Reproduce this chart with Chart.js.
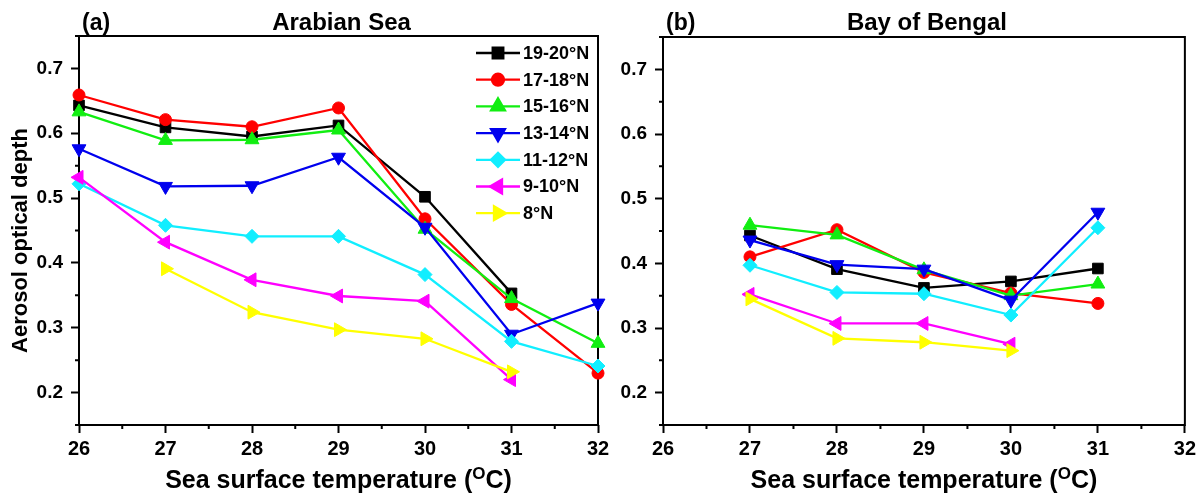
<!DOCTYPE html>
<html>
<head>
<meta charset="utf-8">
<script src="https://cdn.jsdelivr.net/npm/chart.js@4.4.1/dist/chart.umd.min.js"></script>
<style>
    html, body { margin: 0; padding: 0; background: #fff; }
    body { width: 1200px; height: 497px; position: relative; overflow: hidden; }
    #wrap-a { position: absolute; left: 0; top: 0; width: 620px; height: 497px; }
    #wrap-b { position: absolute; left: 600px; top: 0; width: 600px; height: 497px; }
</style>
</head>
<body>
<div id="wrap-a"><canvas id="chart-a"></canvas></div>
<div id="wrap-b"><canvas id="chart-b"></canvas></div>
<script>
// SST bins (x) and latitude bands
const sst = [26, 27, 28, 29, 30, 31, 32];
const bands = ['19-20°N', '17-18°N', '15-16°N', '13-14°N', '11-12°N', '9-10°N', '8°N'];

// (a) Arabian Sea - AOD per SST bin
const asN19_20 = [0.643, 0.609, 0.595, 0.612, 0.502, 0.353, null];
const asN17_18 = [0.659, 0.621, 0.610, 0.639, 0.468, 0.336, 0.230];
const asN15_16 = [0.633, 0.589, 0.590, 0.605, 0.452, 0.345, 0.276];
const asN13_14 = [0.576, 0.518, 0.519, 0.563, 0.455, 0.290, 0.338];
const asN11_12 = [0.522, 0.458, 0.441, 0.441, 0.382, 0.279, 0.241];
const asN9_10  = [0.532, 0.432, 0.374, 0.349, 0.341, 0.220, null];
const asN8     = [null, 0.391, 0.324, 0.297, 0.283, 0.232, null];

// (b) Bay of Bengal
const bbN19_20 = [null, 0.443, 0.391, 0.362, 0.372, 0.392, null];
const bbN17_18 = [null, 0.410, 0.452, 0.386, 0.354, 0.338, null];
const bbN15_16 = [null, 0.459, 0.444, 0.390, 0.350, 0.368, null];
const bbN13_14 = [null, 0.436, 0.398, 0.391, 0.343, 0.479, null];
const bbN11_12 = [null, 0.397, 0.355, 0.353, 0.320, 0.455, null];
const bbN9_10  = [null, 0.352, 0.307, 0.307, 0.275, null, null];
const bbN8     = [null, 0.345, 0.284, 0.278, 0.265, null, null];

// ticks
const xMajorTicks = [26, 27, 28, 29, 30, 31, 32];
const xMinorTicks = [26.5, 27.5, 28.5, 29.5, 30.5, 31.5];
const yMajorTicks = [0.2, 0.3, 0.4, 0.5, 0.6, 0.7];
const yMinorTicks = [0.15, 0.25, 0.35, 0.45, 0.55, 0.65, 0.75];

const FONT = "'Liberation Sans', Arial, sans-serif";

// marker look per band (Origin defaults)
const styles = [
    { color: '#000000', point: 'rect', rot: 0, r: 7.5 },
    { color: '#ff0000', point: 'circle', rot: 0, r: 6 },
    { color: '#11ee11', point: 'triangle', rot: 0, r: 8 },
    { color: '#0000ee', point: 'triangle', rot: 180, r: 8 },
    { color: '#11eeff', point: 'rectRot', rot: 0, r: 7 },
    { color: '#ff00ff', point: 'triangle', rot: -90, r: 8 },
    { color: '#ffff00', point: 'triangle', rot: 90, r: 8 }
];

function toPoints(vals) {
    return sst.map((x, i) => ({ x: x, y: vals[i] })).filter(p => p.y !== null);
}

function buildDatasets(series) {
    return series.map((vals, i) => ({
        label: bands[i],
        data: toPoints(vals),
        borderColor: styles[i].color,
        backgroundColor: styles[i].color,
        borderWidth: 2.3,
        pointStyle: styles[i].point,
        pointRotation: styles[i].rot,
        pointRadius: styles[i].r,
        pointBorderWidth: 1,
        tension: 0,
        clip: false,
        order: series.length - i
    }));
}

// box frame + short minor ticks
const framePlugin = {
    id: 'frame',
    beforeDatasetsDraw(chart) {
        const { ctx, chartArea: a, scales } = chart;
        ctx.save();
        ctx.strokeStyle = '#000';
        ctx.lineWidth = 2;
        ctx.strokeRect(a.left, a.top, a.right - a.left, a.bottom - a.top);
        ctx.beginPath();
        yMinorTicks.forEach(v => {
            const py = scales.y.getPixelForValue(v);
            ctx.moveTo(a.left - 4, py);
            ctx.lineTo(a.left, py);
        });
        xMinorTicks.forEach(v => {
            const px = scales.x.getPixelForValue(v);
            ctx.moveTo(px, a.bottom);
            ctx.lineTo(px, a.bottom + 4);
        });
        ctx.stroke();
        ctx.restore();
    }
};

function textPlugin(tag, title, showYTitle, showLegend) {
    return {
        id: 'texts',
        afterDraw(chart) {
            const { ctx, chartArea: a } = chart;
            const cx = (a.left + a.right) / 2;
            ctx.save();
            ctx.fillStyle = '#000';
            ctx.textBaseline = 'alphabetic';

            // panel tag and title
            ctx.font = 'bold 23px ' + FONT;
            ctx.textAlign = 'left';
            ctx.fillText(tag, a.left + 3, 30);
            ctx.font = 'bold 24px ' + FONT;
            ctx.textAlign = 'center';
            ctx.fillText(title, cx + 3, 30);

            // x axis title with superscript O
            const main1 = 'Sea surface temperature (';
            const sup = 'O';
            const main2 = 'C)';
            ctx.font = 'bold 25px ' + FONT;
            const w1 = ctx.measureText(main1).width;
            const w3 = ctx.measureText(main2).width;
            ctx.font = 'bold 17px ' + FONT;
            const w2 = ctx.measureText(sup).width;
            const x0 = cx - (w1 + w2 + w3) / 2;
            const by = 488;
            ctx.textAlign = 'left';
            ctx.font = 'bold 25px ' + FONT;
            ctx.fillText(main1, x0, by);
            ctx.font = 'bold 17px ' + FONT;
            ctx.fillText(sup, x0 + w1, by - 9);
            ctx.font = 'bold 25px ' + FONT;
            ctx.fillText(main2, x0 + w1 + w2, by);

            if (showYTitle) {
                ctx.save();
                ctx.translate(21, (a.top + a.bottom) / 2 + 10);
                ctx.rotate(-Math.PI / 2);
                ctx.textAlign = 'center';
                ctx.textBaseline = 'middle';
                ctx.font = 'bold 22px ' + FONT;
                ctx.fillText('Aerosol optical depth', 0, 0);
                ctx.restore();
            }

            if (showLegend) {
                const lx = 476, lw = 44, step = 26.7;
                chart.data.datasets.forEach((ds, i) => {
                    const y = 53 + i * step;
                    ctx.strokeStyle = ds.borderColor;
                    ctx.fillStyle = ds.backgroundColor;
                    ctx.lineWidth = 2.3;
                    ctx.beginPath();
                    ctx.moveTo(lx, y);
                    ctx.lineTo(lx + lw, y);
                    ctx.stroke();
                    Chart.helpers.drawPoint(ctx, {
                        pointStyle: ds.pointStyle, rotation: ds.pointRotation,
                        radius: ds.pointRadius, borderWidth: 1
                    }, lx + lw / 2, y);
                    ctx.fillStyle = '#000';
                    ctx.font = 'bold 18px ' + FONT;
                    ctx.textAlign = 'left';
                    ctx.textBaseline = 'middle';
                    ctx.fillText(ds.label, lx + lw + 3, y + 1);
                });
            }
            ctx.restore();
        }
    };
}

function makeChart(id, series, cfg) {
    return new Chart(document.getElementById(id), {
        type: 'line',
        data: { datasets: buildDatasets(series) },
        options: {
            responsive: true, maintainAspectRatio: false, animation: false,
            layout: { padding: { top: cfg.padTop, right: cfg.padRight, left: 0, bottom: 0 } },
            plugins: { legend: { display: false }, tooltip: { enabled: false } },
            scales: {
                x: {
                    type: 'linear', min: 26, max: 32,
                    afterBuildTicks: s => { s.ticks = xMajorTicks.map(v => ({ value: v })); },
                    afterFit: s => { s.height = 72; },
                    ticks: { font: { family: FONT, size: 20, weight: 'bold' }, color: '#000', padding: 4, maxRotation: 0, autoSkip: false, callback: v => String(v) },
                    grid: { drawOnChartArea: false, tickLength: 8, tickWidth: 2, tickColor: '#000' },
                    border: { display: false }
                },
                y: {
                    type: 'linear', min: 0.15, max: 0.75,
                    afterBuildTicks: s => { s.ticks = yMajorTicks.map(v => ({ value: v })); },
                    afterFit: s => { s.width = cfg.yWidth; },
                    ticks: { font: { family: FONT, size: 19, weight: 'bold' }, color: '#000', padding: 8, autoSkip: false, callback: v => v.toFixed(1) },
                    grid: { drawOnChartArea: false, tickLength: 8, tickWidth: 2, tickColor: '#000' },
                    border: { display: false }
                }
            }
        },
        plugins: [framePlugin, textPlugin(cfg.tag, cfg.title, cfg.yTitle, cfg.legend)]
    });
}

makeChart('chart-a', [asN19_20, asN17_18, asN15_16, asN13_14, asN11_12, asN9_10, asN8],
    { padTop: 36, padRight: 22, yWidth: 79, tag: '(a)', title: 'Arabian Sea', yTitle: true, legend: true });
makeChart('chart-b', [bbN19_20, bbN17_18, bbN15_16, bbN13_14, bbN11_12, bbN9_10, bbN8],
    { padTop: 37, padRight: 13, yWidth: 63, tag: '(b)', title: 'Bay of Bengal', yTitle: false, legend: false });
</script>
</body>
</html>
